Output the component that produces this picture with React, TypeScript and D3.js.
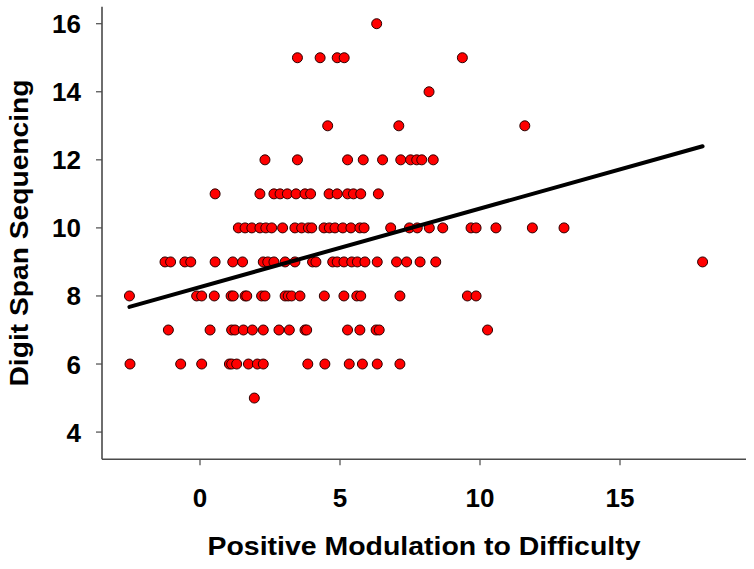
import React from "react";
import * as d3 from "d3";

// Positive modulation values (x) grouped by Digit Span Sequencing score (y)
const score16 = [6.31];
const score15 = [3.48, 4.29, 4.9, 5.15, 9.37];
const score14 = [8.18];
const score13 = [4.56, 7.1, 11.6];
const score12 = [2.32, 3.48, 5.27, 5.83, 6.52, 7.17, 7.52, 7.74, 7.92, 8.33];
const score11 = [0.54, 2.14, 2.64, 2.86, 3.12, 3.43, 3.75, 3.95, 4.61, 4.9, 5.27, 5.48, 5.74, 6.37];
const score10 = [1.37, 1.61, 1.85, 2.14, 2.35, 2.56, 2.95, 3.39, 3.63, 3.87, 3.99, 4.43, 4.62, 4.82, 5.1, 5.39, 5.71, 5.86, 6.81, 7.48, 7.76, 8.19, 8.67, 9.68, 9.86, 10.57, 11.87, 13.0];
const score9 = [-1.25, -1.05, -0.54, -0.33, 0.54, 1.17, 1.52, 2.26, 2.42, 2.64, 3.04, 3.39, 4.02, 4.14, 4.74, 4.9, 5.14, 5.42, 5.62, 5.89, 6.33, 7.02, 7.38, 7.86, 8.42, 17.95];
const score8 = [-2.52, -0.12, 0.06, 0.51, 1.11, 1.19, 1.61, 1.67, 2.2, 2.32, 3.04, 3.15, 3.27, 3.57, 4.44, 5.14, 5.6, 5.74, 7.14, 9.55, 9.86];
const score7 = [-1.13, 0.36, 1.13, 1.25, 1.55, 1.87, 2.26, 2.82, 3.19, 3.75, 3.81, 5.27, 5.71, 6.29, 6.4, 10.27];
const score6 = [-2.5, -0.69, 0.06, 1.05, 1.13, 1.31, 1.73, 2.05, 2.26, 3.85, 4.46, 5.33, 5.8, 6.33, 7.14];
const score5 = [1.94];

const scoreLevels = [16, 15, 14, 13, 12, 11, 10, 9, 8, 7, 6, 5];
const scoreGroups = [score16, score15, score14, score13, score12, score11, score10, score9, score8, score7, score6, score5];

// Regression line end points
const fitX = [-2.52, 17.95];
const fitY = [7.68, 12.4];

const xTicks = [0, 5, 10, 15];
const yTicks = [4, 6, 8, 10, 12, 14, 16];
const xTitle = "Positive Modulation to Difficulty";
const yTitle = "Digit Span Sequencing";

export default function App() {
  const W = 754;
  const H = 569;
  const left = 102;
  const right = 746;
  const top = 6.7;
  const bottom = 459.3;

  const x = d3.scaleLinear().domain([-3.5, 19.5]).range([left, right]);
  const y = d3.scaleLinear().domain([3.2, 16.5]).range([bottom, top]);

  const points: { x: number; y: number }[] = [];
  scoreGroups.forEach((grp, i) => grp.forEach((v) => points.push({ x: v, y: scoreLevels[i] })));

  const line = d3
    .line<number>()
    .x((_, i) => x(fitX[i]))
    .y((d) => y(d));

  const font = "'Liberation Sans', Arial, Helvetica, sans-serif";
  const axisColor = "#4a4a4a";

  return (
    <svg
      width={W}
      height={H}
      style={{ position: "absolute", left: 0, top: 0, background: "#fff" }}
      fontFamily={font}
    >
      <rect x={0} y={0} width={W} height={H} fill="#fff" />
      {/* axes */}
      <line x1={left} x2={left} y1={top} y2={bottom} stroke={axisColor} strokeWidth={1.6} />
      <line x1={left} x2={right} y1={bottom} y2={bottom} stroke={axisColor} strokeWidth={1.6} />
      {yTicks.map((t) => (
        <g key={"y" + t}>
          <line x1={left - 6} x2={left} y1={y(t)} y2={y(t)} stroke={axisColor} strokeWidth={1.2} />
          <text
            x={81}
            y={y(t) + 9.5}
            textAnchor="end"
            fontSize={26}
            fontWeight="bold"
            fill="#000"
          >
            {t}
          </text>
        </g>
      ))}
      {xTicks.map((t) => (
        <g key={"x" + t}>
          <line x1={x(t)} x2={x(t)} y1={bottom} y2={bottom + 6} stroke={axisColor} strokeWidth={1.2} />
          <text x={x(t)} y={507} textAnchor="middle" fontSize={26} fontWeight="bold" fill="#000">
            {t}
          </text>
        </g>
      ))}
      {/* axis titles */}
      <text
        x={(left + right) / 2}
        y={555}
        textAnchor="middle"
        fontSize={26.5}
        fontWeight="bold"
        fill="#000"
        textLength={433}
        lengthAdjust="spacingAndGlyphs"
      >
        {xTitle}
      </text>
      <text
        transform={`translate(27.5, ${(top + bottom) / 2}) rotate(-90)`}
        textAnchor="middle"
        fontSize={26.5}
        fontWeight="bold"
        fill="#000"
        textLength={307}
        lengthAdjust="spacingAndGlyphs"
      >
        {yTitle}
      </text>
      {/* points */}
      {points.map((p, i) => (
        <circle key={i} cx={x(p.x)} cy={y(p.y)} r={5} fill="#ff0000" stroke="#2a0000" strokeWidth={1} />
      ))}
      {/* regression line */}
      <path d={line(fitY) || ""} stroke="#000" strokeWidth={4} fill="none" strokeLinecap="round" />
    </svg>
  );
}
